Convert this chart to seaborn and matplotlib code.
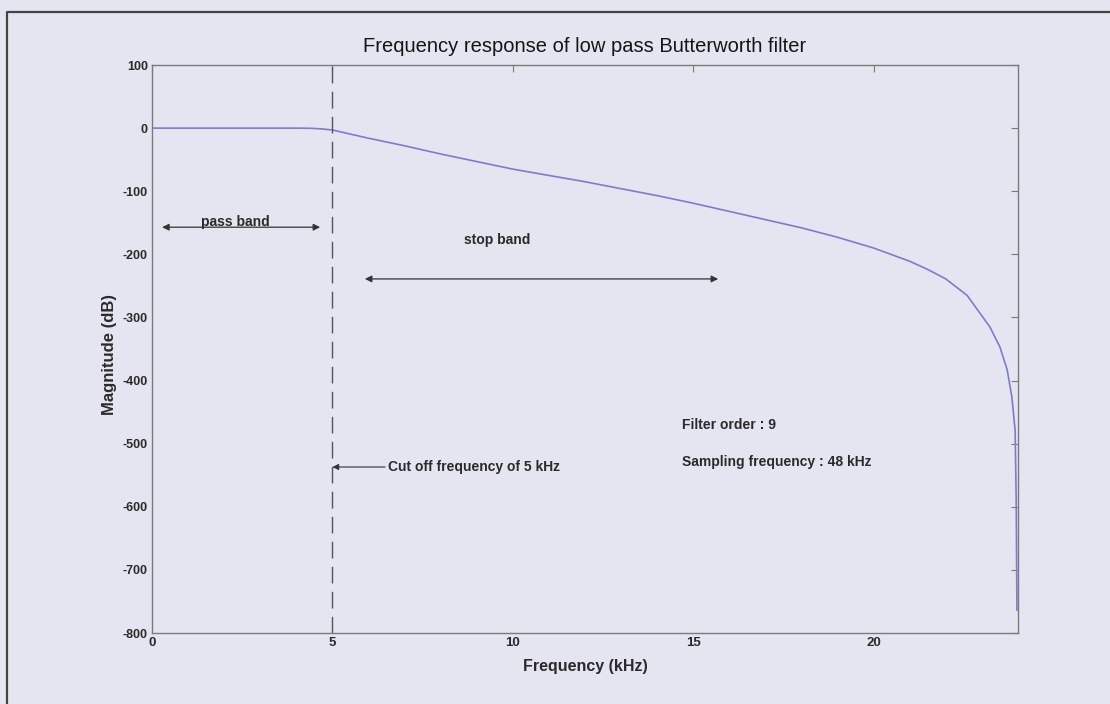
import matplotlib
matplotlib.use("Agg")
import matplotlib.pyplot as plt
import seaborn as sns
import pandas as pd
from matplotlib.lines import Line2D

# Data
freq_khz = [0.0, 2.0, 4.0, 4.4, 4.7, 5.0, 6.0, 7.0, 8.0, 9.0, 10.0, 11.0, 12.0, 13.0,
            14.0, 15.0, 16.0, 17.0, 18.0, 19.0, 20.0, 21.0, 21.5, 22.0, 22.59, 23.22, 23.50,
            23.70, 23.83, 23.92, 23.95, 23.97]
magnitude_db = [0.0, 0.0, 0.0, -0.3, -1.2, -3.0, -16.0, -28.0, -41.0, -53.0, -65.0, -75.0,
                -85.0, -96.0, -107.0, -119.0, -132.0, -145.0, -158.0, -173.0, -190.0, -211.0,
                -224.0, -239.0, -265.0, -315.0, -347.0, -383.0, -426.0, -479.0, -589.0, -764.0]
x_ticks = [0, 5, 10, 15, 20]
y_ticks = [-800, -700, -600, -500, -400, -300, -200, -100, 0, 100]
cutoff_khz = 5

title = "Frequency response of low pass Butterworth filter"
x_label = "Frequency (kHz)"
y_label = "Magnitude (dB)"

sns.set_style("white")
plt.rcParams['font.family'] = ['Liberation Sans', 'DejaVu Sans']

bg = '#e5e5f1'
txt = '#2a2a2a'
fig = plt.figure(figsize=(11.10, 7.04), dpi=100, facecolor=bg)
ax = fig.add_axes([152/1110, 1 - 633/704, (1018-152)/1110, (633-65)/704])
ax.set_facecolor(bg)

df = pd.DataFrame({"f": freq_khz, "m": magnitude_db})
sns.lineplot(data=df, x="f", y="m", ax=ax, color='#7c7ccc', lw=1.2, estimator=None, sort=False)

ax.axvline(cutoff_khz, color='#555555', lw=1.0, dashes=(12, 6))

ax.set_xlim(0, 24)
ax.set_ylim(-800, 100)
ax.set_xticks(x_ticks)
ax.set_yticks(y_ticks)
ax.set_xticklabels([str(t) for t in x_ticks], fontsize=9.5, fontweight='bold', color=txt)
ax.set_yticklabels([str(t) for t in y_ticks], fontsize=9, fontweight='bold', color=txt)
ax.tick_params(direction='in', length=5, width=0.8, color='#7a7a7a', top=True, right=True,
               pad=3)
for s in ax.spines.values():
    s.set_color('#7a7a7a')
    s.set_linewidth(1.0)

ax.set_title(title, fontsize=14.5, color='#151515', pad=9)
ax.set_xlabel(x_label, fontsize=11.5, fontweight='bold', color=txt)
ax.xaxis.set_label_coords(0.5, -0.045)
ax.set_ylabel(y_label, fontsize=12, fontweight='bold', color=txt)
ax.yaxis.set_label_coords(-0.04, 0.49)

fs_ann = 10
arrow_kw = dict(arrowstyle='<|-|>', color='#333333', lw=0.9, mutation_scale=10, shrinkA=0, shrinkB=0)
# pass band
ax.annotate('', xy=(0.28, -157), xytext=(4.66, -157), arrowprops=arrow_kw)
ax.text(2.3, -160, 'pass band', ha='center', va='bottom', fontsize=fs_ann, fontweight='bold', color=txt)
# stop band
ax.annotate('', xy=(5.90, -239), xytext=(15.69, -239), arrowprops=arrow_kw)
ax.text(9.56, -178, 'stop band', ha='center', va='center', fontsize=fs_ann, fontweight='bold', color=txt)
# cut off
ax.annotate('', xy=(5.0, -537), xytext=(6.46, -537),
            arrowprops=dict(arrowstyle='-|>', color='#333333', lw=0.8, mutation_scale=9, shrinkA=0, shrinkB=0))
ax.text(6.54, -537, 'Cut off frequency of 5 kHz', ha='left', va='center', fontsize=fs_ann, fontweight='bold', color=txt)
ax.text(14.69, -471, 'Filter order : 9', ha='left', va='center', fontsize=fs_ann, fontweight='bold', color=txt)
ax.text(14.69, -529, 'Sampling frequency : 48 kHz', ha='left', va='center', fontsize=fs_ann, fontweight='bold', color=txt)

# outer frame of the scanned figure
fig.add_artist(Line2D([7/1110, 7/1110, 1.0], [0.0, 1 - 12/704, 1 - 12/704], transform=fig.transFigure,
                      color='#444444', lw=1.6))

fig.savefig('out.png', dpi=100, facecolor=bg)
